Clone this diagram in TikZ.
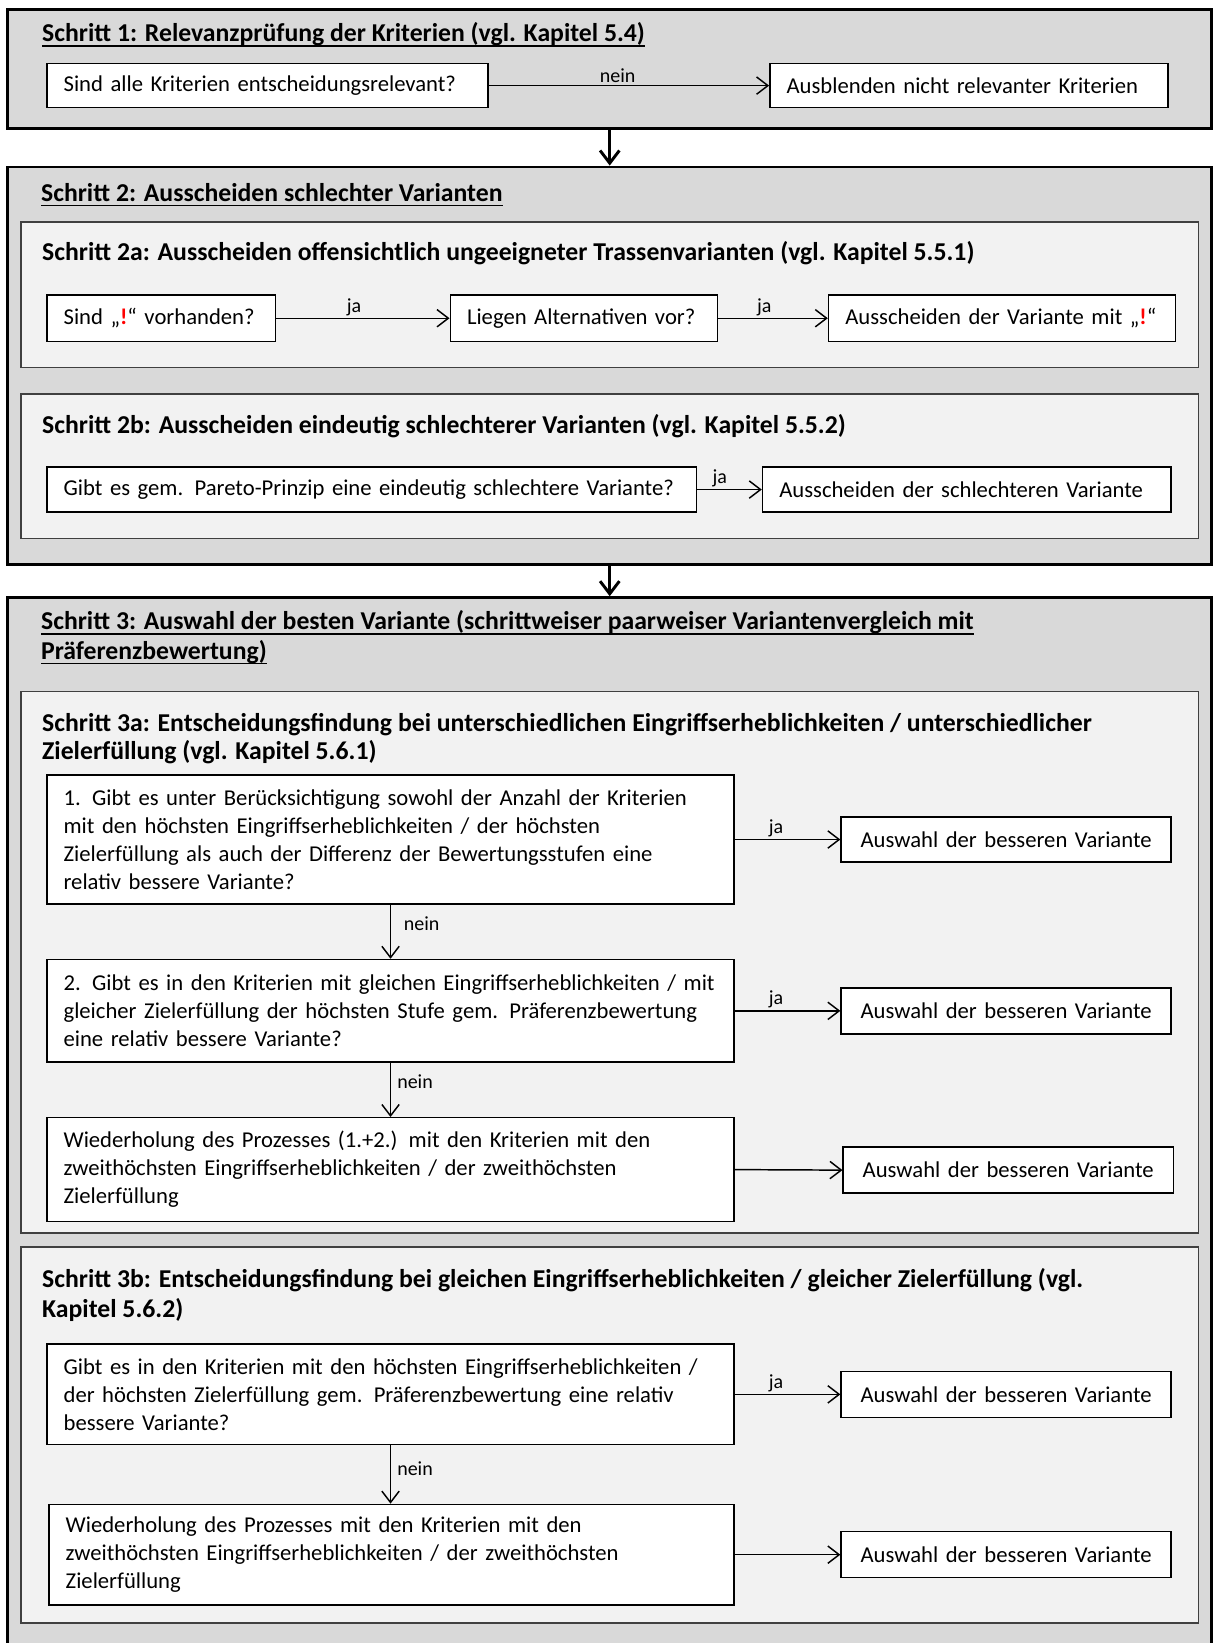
\documentclass[tikz,border=0pt]{standalone}
\usepackage{fontspec}
\setmainfont{Carlito}
\usetikzlibrary{arrows.meta}
\definecolor{outerfill}{HTML}{D9D9D9}
\definecolor{innerfill}{HTML}{F2F2F2}
\newcommand\myul[1]{\setbox0\hbox{#1}\rlap{\vrule height -2.6pt depth 3.8pt width \wd0}\box0}
\newcommand\bodyfont{\fontsize{17}{21}\selectfont}
\newcommand\titlefont{\fontsize{19.3}{22}\selectfont\bfseries}
\newcommand\lblfont{\fontsize{15}{17}\selectfont}
\newcommand\excl{{\color{red}\textbf{!}}}
\begin{document}
\begin{tikzpicture}[x=0.7862pt, y=-0.7862pt,
  gsize/.code 2 args={%
    \pgfmathsetlengthmacro\mymw{#1*0.7862pt}%
    \pgfmathsetlengthmacro\mymh{#2*0.7862pt}%
    \edef\mytmp{\noexpand\pgfkeysalso{minimum width=\mymw, minimum height=\mymh}}\mytmp},
  bsize/.code 2 args={%
    \pgfmathsetlengthmacro\mytw{(#1-32)*0.7862pt}%
    \pgfmathsetlengthmacro\mymh{#2*0.7862pt}%
    \edef\mytmp{\noexpand\pgfkeysalso{text width=\mytw, minimum height=\mymh}}\mytmp},
  outerbox/.style={draw=black, line width=2.2pt, fill=outerfill, anchor=north west, inner sep=0pt},
  groupbox/.style={draw=black!75, line width=1.3pt, fill=innerfill, anchor=north west, inner sep=0pt},
  wbox/.style={draw=black, line width=1.1pt, fill=white, anchor=north west,
    inner xsep=12.58pt, inner ysep=0pt, font=\bodyfont, align=left},
  cbox/.style={wbox, align=center},
  title/.style={anchor=base west, inner sep=0pt, font=\titlefont},
  lbl/.style={font=\lblfont, inner sep=1.5pt},
  flow/.style={line width=1.1pt, -{Straight Barb[length=8.5pt,width=13pt]}},
  bigflow/.style={line width=2.2pt, -{Straight Barb[length=9.5pt,width=14.5pt]}}
]
\useasboundingbox (0,0) rectangle (1161,1568);

% outer step boxes
\node[outerbox, gsize={1149}{113}] (s1) at (6,8) {};
\node[outerbox, gsize={1149}{379}] (s2) at (6,158) {};
\node[outerbox, gsize={1149}{1100}] (s3) at (6,569) {};

% Schritt 1
\node[title] (t1) at (40,40) {\myul{Schritt 1: Relevanzprüfung der Kriterien (vgl. Kapitel 5.4)}};
\node[wbox, bsize={421}{42}] (b1) at (44,60) {Sind alle Kriterien entscheidungsrelevant?};
\node[wbox, bsize={380}{42}] (b1r) at (734,60) {Ausblenden  nicht relevanter Kriterien};
\draw[flow] (b1.east) -- node[lbl, above, pos=0.46] {nein} (b1r.west);

\draw[bigflow] (s1.south) -- (s2.north);

% Schritt 2
\node[title] (t2) at (39,192) {\myul{Schritt 2: Ausscheiden schlechter Varianten}};
\node[groupbox, gsize={1124}{139}] (g2a) at (19,211) {};
\node[title] (t2a) at (40,249) {Schritt 2a: Ausscheiden offensichtlich ungeeigneter Trassenvarianten (vgl. Kapitel 5.5.1)};
\node[wbox, bsize={218}{44}] (b2a1) at (44,281) {Sind „\excl“ vorhanden?};
\node[wbox, bsize={255}{44}] (b2a2) at (429,281) {Liegen Alternativen vor?};
\node[wbox, bsize={331}{44}] (b2a3) at (790,281) {Ausscheiden der Variante mit „\excl“};
\draw[flow] (b2a1.east) -- node[lbl, above, pos=0.45] {ja} (b2a2.west);
\draw[flow] (b2a2.east) -- node[lbl, above, pos=0.42] {ja} (b2a3.west);

\node[groupbox, gsize={1124}{138}] (g2b) at (19,375) {};
\node[title] (t2b) at (40,414) {Schritt 2b: Ausscheiden eindeutig schlechterer Varianten (vgl. Kapitel 5.5.2)};
\node[wbox, bsize={620}{43}] (b2b1) at (44,445) {Gibt es gem. Pareto-Prinzip eine eindeutig schlechtere Variante?};
\node[wbox, bsize={390}{43}] (b2b2) at (727,445) {Ausscheiden der  schlechteren Variante};
\draw[flow] (b2b1.east) -- node[lbl, above, pos=0.35] {ja} (b2b2.west);

\draw[bigflow] (s2.south) -- (s3.north);

% Schritt 3
\node[title] (t3) at (39,601) {\myul{Schritt 3: Auswahl der besten Variante (schrittweiser paarweiser Variantenvergleich mit}};
\node[title] (t3x) at (39,629) {\myul{Präferenzbewertung)}};

\node[groupbox, gsize={1124}{517}] (g3a) at (19,659) {};
\node[title] (t3a) at (40,698) {Schritt 3a: Entscheidungsfindung bei unterschiedlichen Eingriffserheblichkeiten / unterschiedlicher};
\node[title] (t3ax) at (40,725) {Zielerfüllung (vgl. Kapitel 5.6.1)};

\node[wbox, bsize={656}{123}] (q1) at (44,739) {1. Gibt es unter Berücksichtigung sowohl der Anzahl der Kriterien\\mit den höchsten Eingriffserheblichkeiten / der höchsten\\Zielerfüllung als auch der Differenz der Bewertungsstufen eine\\relativ bessere Variante?};
\node[cbox, bsize={315}{43}] (a1) at (802,779) {Auswahl der besseren Variante};
\node[wbox, bsize={656}{98}] (q2) at (44,915) {2. Gibt es in den Kriterien mit gleichen Eingriffserheblichkeiten / mit\\gleicher Zielerfüllung der höchsten Stufe gem. Präferenzbewertung\\eine relativ bessere Variante?};
\node[cbox, bsize={315}{44}] (a2) at (802,942) {Auswahl der besseren Variante};
\node[wbox, bsize={656}{99}] (w1) at (44,1066) {Wiederholung des Prozesses (1.+2.) mit den Kriterien mit den\\zweithöchsten Eingriffserheblichkeiten /  der zweithöchsten\\Zielerfüllung};
\node[cbox, bsize={315}{44}] (a3) at (804,1094) {Auswahl der besseren Variante};

\draw[flow] (q1.east) -- node[lbl, above, pos=0.39] {ja} (a1.west);
\draw[flow] (q1.south) -- node[lbl, right, pos=0.35, xshift=8pt] {nein} (q2.north);
\draw[flow] (q2.east) -- node[lbl, above, pos=0.39] {ja} (a2.west);
\draw[flow] (q2.south) -- node[lbl, right, pos=0.35, xshift=3pt] {nein} (w1.north);
\draw[flow] (w1.east) -- (a3.west);

\node[groupbox, gsize={1124}{359}] (g3b) at (19,1189) {};
\node[title] (t3b) at (40,1229) {Schritt 3b: Entscheidungsfindung bei gleichen Eingriffserheblichkeiten / gleicher Zielerfüllung (vgl.};
\node[title] (t3bx) at (40,1257) {Kapitel 5.6.2)};

\node[wbox, bsize={656}{96}] (q3) at (44,1282) {Gibt es in den Kriterien mit  den höchsten Eingriffserheblichkeiten /\\der höchsten Zielerfüllung gem. Präferenzbewertung  eine relativ\\bessere Variante?};
\node[cbox, bsize={315}{44}] (a4) at (802,1308) {Auswahl der besseren Variante};
\node[wbox, bsize={654}{96}] (w2) at (46,1435) {Wiederholung des Prozesses  mit den Kriterien mit den\\zweithöchsten Eingriffserheblichkeiten / der zweithöchsten\\Zielerfüllung};
\node[cbox, bsize={315}{44}] (a5) at (802,1461) {Auswahl der besseren Variante};

\draw[flow] (q3.east) -- node[lbl, above, pos=0.39] {ja} (a4.west);
\draw[flow] (q3.south) -- node[lbl, right, pos=0.4, xshift=3pt] {nein} (q3.south |- w2.north);
\draw[flow] (w2.east) -- (a5.west);
\end{tikzpicture}
\end{document}
